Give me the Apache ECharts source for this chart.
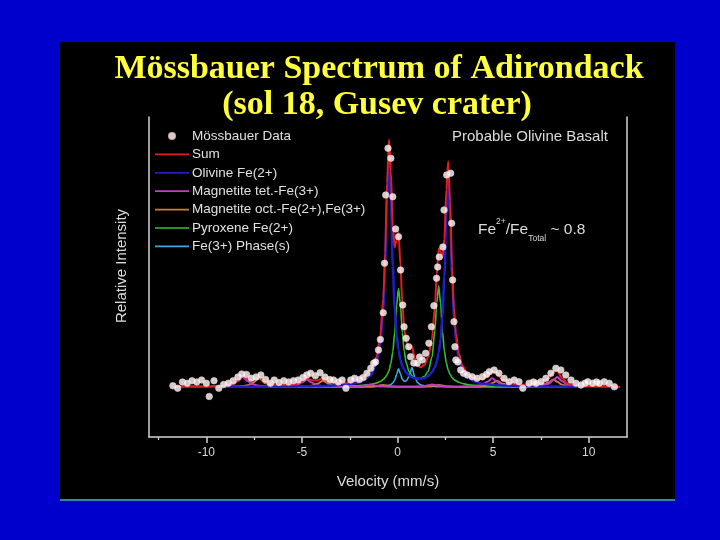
<!DOCTYPE html>
<html><head><meta charset="utf-8">
<script src="https://cdn.jsdelivr.net/npm/echarts@6/dist/echarts.min.js"></script>
<style>html,body{margin:0;padding:0;background:#0000cc}#c{width:720px;height:540px}</style>
</head><body><div id="c"></div>
<script>
// velocity grid (mm/s) for the fitted curves
const vel = [-11.7,-11,-10,-9.2,-8.6,-8.35,-8.1,-7.85,-7.6,-7.25,
  -6.9,-6.4,-5.8,-5.3,-5.0,-4.75,-4.5,-4.2,-3.9,-3.6,
  -3.2,-2.7,-2.2,-1.8,-1.4,-1.1,-0.9,-0.75,-0.65,-0.55,
  -0.45,-0.35,-0.25,-0.15,-0.05,0.05,0.15,0.25,0.35,0.45,
  0.6,0.75,0.9,1.05,1.2,1.4,1.6,1.8,1.95,2.05,
  2.15,2.25,2.35,2.45,2.55,2.65,2.75,2.85,2.95,3.05,
  3.2,3.4,3.7,4.0,4.4,4.7,4.95,5.2,5.5,5.9,
  6.4,7.0,7.5,7.9,8.15,8.35,8.6,8.9,9.3,9.8,
  10.4,11.0,11.6];
const sumFit = [0.0,0.2,0.2,0.5,1.4,2.8,4.5,3.2,2.7,4.1,
  1.9,0.9,0.8,1.2,2.4,3.7,2.7,2.6,3.5,2.2,
  1.5,1.6,2.4,3.8,7.0,12.0,20.7,35.4,53.5,81.6,
  99.0,86.3,64.4,55.9,58.8,61.7,49.2,33.5,23.6,18.1,
  15.2,16.4,11.4,8.6,7.9,8.8,11.9,19.3,31.9,45.2,
  55.4,54.0,51.7,59.3,79.0,90.3,74.2,48.4,31.7,21.6,
  13.4,8.3,4.8,3.5,3.0,4.3,6.2,5.6,2.9,1.5,
  0.9,1.0,1.4,3.4,6.1,6.4,3.6,1.4,0.7,0.4,
  0.3,0.2,0.0];
const olivine = [0.0,0.1,0.1,0.1,0.1,0.1,0.1,0.1,0.1,0.1,
  0.1,0.2,0.2,0.2,0.3,0.3,0.3,0.4,0.4,0.5,
  0.7,1.0,1.5,2.5,4.7,9.3,17.3,31.1,48.4,75.5,
  91.2,75.5,48.5,31.2,20.8,14.8,10.9,8.4,6.9,5.8,
  4.6,3.9,3.5,3.3,3.3,3.6,4.4,5.9,7.9,10.2,
  13.6,19.2,28.5,44.3,68.8,83.0,68.7,44.2,28.4,18.9,
  11.3,6.6,3.6,2.3,1.4,1.1,0.9,0.7,0.6,0.5,
  0.4,0.3,0.2,0.2,0.2,0.2,0.2,0.1,0.1,0.1,
  0.1,0.1,0.0];
const magTet = [0.0,0.1,0.1,0.3,1.1,2.4,4.0,2.4,1.1,0.5,
  0.3,0.2,0.3,0.7,1.8,3.0,1.8,0.7,0.4,0.2,
  0.1,0.1,0.2,0.4,1.0,0.5,0.3,0.2,0.2,0.1,
  0.1,0.1,0.1,0.1,0.1,0.1,0.1,0.1,0.1,0.1,
  0.1,0.1,0.1,0.2,0.2,0.4,0.7,1.0,0.8,0.6,
  0.5,0.4,0.3,0.2,0.2,0.2,0.2,0.1,0.1,0.1,
  0.1,0.2,0.2,0.3,0.8,2.1,3.5,2.1,0.8,0.4,
  0.2,0.3,0.5,1.3,2.8,4.0,2.4,0.9,0.4,0.2,
  0.1,0.1,0.0];
const magOct = [0.0,0.0,0.0,0.1,0.2,0.3,0.4,0.7,1.5,3.5,
  1.5,0.4,0.2,0.2,0.2,0.3,0.5,1.3,2.5,1.3,
  0.4,0.2,0.1,0.1,0.2,0.4,0.7,0.8,0.7,0.6,
  0.4,0.3,0.2,0.2,0.1,0.1,0.1,0.1,0.1,0.1,
  0.1,0.1,0.1,0.1,0.1,0.1,0.2,0.3,0.6,0.7,
  0.8,0.7,0.6,0.4,0.3,0.2,0.2,0.2,0.1,0.1,
  0.1,0.1,0.1,0.2,0.3,0.7,1.5,2.5,1.3,0.4,
  0.2,0.3,0.6,1.8,3.0,2.1,0.9,0.4,0.2,0.1,
  0.1,0.0,0.0];
const pyroxene = [0,0,0,0,0,0,0,0,0,0,
  0.0,0.1,0.1,0.1,0.1,0.1,0.1,0.2,0.2,0.2,
  0.3,0.3,0.5,0.7,1.0,1.6,2.2,3.0,3.8,4.9,
  6.6,9.4,14.0,21.7,32.7,39.4,32.8,21.8,14.2,9.7,
  6.2,4.5,3.7,3.3,3.4,4.2,6.3,11.9,22.4,33.6,
  40.4,33.6,22.2,14.3,9.6,6.8,5.0,3.8,3.0,2.5,
  1.9,1.4,0.9,0.7,0.5,0.4,0.3,0.3,0.2,0.2,
  0.1,0.1,0.1,0.1,0.1,0.1,0.1,0.0,0.0,0.0,
  0,0,0];
const fe3 = [0,0,0,0,0,0,0,0,0,0,
  0,0,0,0,0,0,0,0,0,0,
  0.0,0.0,0.1,0.1,0.1,0.2,0.2,0.3,0.4,0.5,
  0.7,1.0,1.6,2.7,5.1,7.3,5.3,3.1,2.3,2.4,
  4.2,7.8,4.0,1.7,0.9,0.5,0.3,0.2,0.2,0.1,
  0.1,0.1,0.1,0.1,0.1,0.1,0.1,0.1,0.1,0.0,
  0,0,0,0,0,0,0,0,0,0,
  0,0,0,0,0,0,0,0,0,0,
  0,0,0];
// measured points
const dataVel = [-11.75,-11.5,-11.25,-11.0,-10.75,-10.5,-10.25,-10.0,-9.85,-9.6,
  -9.35,-9.1,-8.85,-8.6,-8.35,-8.15,-7.9,-7.65,-7.4,-7.15,
  -6.9,-6.65,-6.45,-6.2,-5.95,-5.7,-5.45,-5.2,-4.95,-4.75,
  -4.55,-4.3,-4.05,-3.8,-3.55,-3.35,-3.1,-2.9,-2.7,-2.45,
  -2.25,-2.0,-1.8,-1.6,-1.4,-1.25,-1.15,-1.0,-0.9,-0.75,
  -0.68,-0.62,-0.5,-0.35,-0.25,-0.1,0.05,0.16,0.27,0.34,
  0.45,0.58,0.68,0.85,1.03,1.15,1.29,1.47,1.64,1.77,
  1.9,2.04,2.1,2.18,2.37,2.43,2.57,2.78,2.83,2.88,
  2.95,3.0,3.05,3.15,3.3,3.45,3.65,3.9,4.15,4.44,
  4.65,4.8,5.05,5.3,5.57,5.83,6.1,6.35,6.55,6.88,
  7.1,7.25,7.5,7.76,8.02,8.28,8.54,8.8,9.07,9.33,
  9.59,9.8,9.95,10.2,10.4,10.55,10.81,11.07,11.34];
const dataInt = [0.5,-0.5,2.0,1.5,2.5,2.0,2.8,1.5,-3.8,2.5,
  -0.5,1.0,1.5,2.5,4.0,5.2,5.0,3.5,4.0,4.8,
  3.0,1.5,2.8,1.8,2.5,2.0,2.5,2.8,3.8,4.8,
  5.5,4.5,5.7,4.0,3.0,2.8,2.0,2.8,-0.5,2.8,
  3.5,3.0,3.8,5.5,7.5,9.5,10.0,14.8,19.0,29.7,
  49.5,76.8,95.5,91.5,76.1,63.2,60.1,46.8,32.8,24.1,
  19.5,16.1,12.1,9.6,9.5,12.0,10.8,13.5,17.5,24.1,
  32.5,43.5,48.0,52.0,56.0,70.8,84.8,85.5,65.5,42.8,
  26.1,16.1,10.8,10.0,6.8,5.5,4.8,4.1,3.5,4.1,
  5.0,6.1,6.8,5.5,3.5,2.1,2.8,2.1,-0.5,1.5,
  2.0,1.5,2.1,3.5,5.5,7.5,6.8,4.8,2.8,1.5,
  0.8,1.5,2.1,1.5,2.0,1.5,2.1,1.5,0.1];
const majorTicks = [-10,-5,0,5,10];
const minorTicks = [-12.5,-7.5,-2.5,2.5,7.5];
const seriesNames = ['Mössbauer Data','Sum','Olivine Fe(2+)','Magnetite tet.-Fe(3+)','Magnetite oct.-Fe(2+),Fe(3+)','Pyroxene Fe(2+)','Fe(3+) Phase(s)'];

function pairs(xs, ys){ return xs.map((x,i)=>[x, ys[i]]); }
function lineSeries(name, ys, color, width, z){
  return {name, type:'line', data: pairs(vel, ys), showSymbol:false, symbol:'none',
    smooth:0.3, smoothMonotone:'x', lineStyle:{color, width}, itemStyle:{color}, z};
}
const AX = '#d4d4d4';
const LINE_ICON = 'path://M0,0H40V2H0Z';
const chart = echarts.init(document.getElementById('c'));
chart.setOption({
  animation:false,
  backgroundColor:'#0000cc',
  grid:{left:149, right:93, top:117, bottom:103},
  xAxis:[
    {type:'value', min:-13, max:12, position:'bottom',
     axisLine:{show:true, onZero:false, lineStyle:{color:AX, width:1.5}},
     axisTick:{show:true, length:6, customValues:majorTicks, lineStyle:{color:AX, width:1.5}},
     axisLabel:{show:true, customValues:majorTicks, color:'#d8d8d8', fontSize:12, fontFamily:'Liberation Sans', margin:10},
     splitLine:{show:false}},
    {type:'value', min:-13, max:12, position:'bottom',
     axisLine:{show:false, onZero:false},
     axisTick:{show:true, length:3, customValues:minorTicks, lineStyle:{color:AX, width:1.2}},
     axisLabel:{show:false}, splitLine:{show:false}}
  ],
  yAxis:[
    {type:'value', min:-20, max:108, position:'left',
     axisLine:{show:true, onZero:false, lineStyle:{color:AX, width:1.5}},
     axisTick:{show:false}, axisLabel:{show:false}, splitLine:{show:false}},
    {type:'value', min:-20, max:108, position:'right',
     axisLine:{show:true, onZero:false, lineStyle:{color:AX, width:1.5}},
     axisTick:{show:false}, axisLabel:{show:false}, splitLine:{show:false}}
  ],
  legend:{
    orient:'vertical', left:155, top:129, padding:0, itemWidth:34, itemHeight:6, itemGap:4.4,
    symbolKeepAspect:true,
    data:[
      {name:seriesNames[0], icon:'circle'},
      {name:seriesNames[1], icon:LINE_ICON},
      {name:seriesNames[2], icon:LINE_ICON},
      {name:seriesNames[3], icon:LINE_ICON},
      {name:seriesNames[4], icon:LINE_ICON},
      {name:seriesNames[5], icon:LINE_ICON},
      {name:seriesNames[6], icon:LINE_ICON}
    ],
    textStyle:{color:'#e0e0e0', fontSize:13.5, fontFamily:'Liberation Sans', lineHeight:14, padding:[0,0,0,-2]}
  },
  series:[
    lineSeries(seriesNames[6], fe3, '#3aa8e8', 1.6, 2),
    lineSeries(seriesNames[5], pyroxene, '#2fc42f', 1.6, 2),
    lineSeries(seriesNames[4], magOct, '#cf7a3c', 2, 2),
    lineSeries(seriesNames[3], magTet, '#c23cc6', 2, 2),
    lineSeries(seriesNames[2], olivine, '#1f1fc8', 2.5, 3),
    lineSeries(seriesNames[1], sumFit, '#e41e1e', 2, 4),
    {name:seriesNames[0], type:'scatter', data:pairs(dataVel, dataInt), symbol:'circle', symbolSize:6.5,
     itemStyle:{color:'#ffffff', borderColor:'#f6cccc', borderWidth:0.8}, z:5}
  ],
  graphic:[
    {type:'rect', z:-10, shape:{x:60, y:42, width:615, height:458}, style:{fill:'#000000'}},
    {type:'rect', z:-9, shape:{x:60, y:499, width:615, height:2}, style:{fill:'#2e86a8'}},
    {type:'text', x:379, y:69, style:{text:'Mössbauer Spectrum of Adirondack', fill:'#ffff3c',
      fontSize:34, fontWeight:'bold', fontFamily:'Liberation Serif', align:'center', verticalAlign:'middle'}},
    {type:'text', x:377, y:105, style:{text:'(sol 18, Gusev crater)', fill:'#ffff3c',
      fontSize:34, fontWeight:'bold', fontFamily:'Liberation Serif', align:'center', verticalAlign:'middle'}},
    {type:'text', x:388, y:482, style:{text:'Velocity (mm/s)', fill:'#dcdcdc', fontSize:15,
      fontFamily:'Liberation Sans', align:'center', verticalAlign:'middle'}},
    {type:'text', x:122, y:266, rotation:Math.PI/2, style:{text:'Relative Intensity', fill:'#dcdcdc', fontSize:15,
      fontFamily:'Liberation Sans', align:'center', verticalAlign:'middle'}},
    {type:'text', x:452, y:137, style:{text:'Probable Olivine Basalt', fill:'#dcdcdc', fontSize:15,
      fontFamily:'Liberation Sans', align:'left', verticalAlign:'middle'}},
    {type:'text', x:478, y:217, style:{
      text:'{a|Fe}{sup|2+}{a|/Fe}{sub|Total}{a| ~ 0.8}',
      fill:'#dcdcdc', fontFamily:'Liberation Sans',
      rich:{
        a:{fontSize:15.5, lineHeight:26, verticalAlign:'middle', fill:'#dcdcdc', fontFamily:'Liberation Sans'},
        sup:{fontSize:8.5, lineHeight:10, verticalAlign:'top', fill:'#dcdcdc', fontFamily:'Liberation Sans'},
        sub:{fontSize:8.5, lineHeight:10, verticalAlign:'bottom', fill:'#dcdcdc', fontFamily:'Liberation Sans'}
      }}}
  ]
});
</script></body></html>
